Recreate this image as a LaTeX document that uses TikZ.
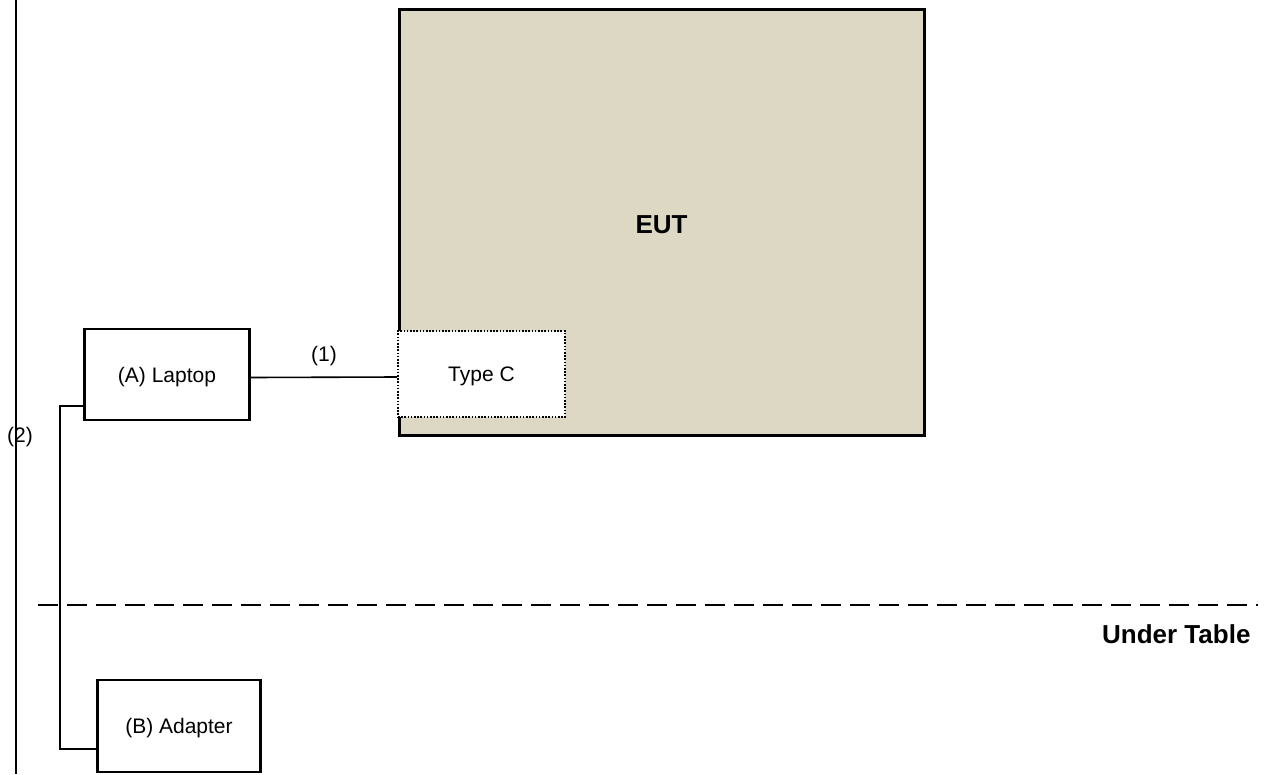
\documentclass[tikz,border=0pt]{standalone}
\usepackage{fontspec}
\setmainfont{Liberation Sans}
\usetikzlibrary{positioning}
\definecolor{euttan}{RGB}{221,216,195}

\begin{document}
\begin{tikzpicture}[x=1pt, y=-1pt,
    box/.style={draw, line width=2.5pt, inner sep=0pt, text depth=0pt, font=\fontsize{21}{25}\selectfont},
    portbox/.style={draw, fill=white, line width=1.8pt, dash pattern=on 1.6pt off 1.6pt, inner sep=0pt, text depth=0pt, font=\fontsize{21}{25}\selectfont},
    cable/.style={line width=1.6pt},
    tag/.style={font=\fontsize{21}{25}\selectfont},
    bigtag/.style={font=\fontsize{26}{31}\selectfont\bfseries}]
  \useasboundingbox (0,0) rectangle (1264,774);

  % EUT with its port
  \node[box, fill=euttan, minimum width=525pt, minimum height=426pt] (eut) at (662,222.5) {};
  \node[bigtag] (eutlabel) at (661.5,225) {EUT};
  \node[portbox, minimum width=167pt, minimum height=86pt] (typec) at (481.5,374) {Type C};

  % support units
  \node[box, minimum width=165pt, minimum height=91pt] (laptop) at (167,374.5) {(A) Laptop};
  \node[box, minimum width=163pt, minimum height=92pt] (adapter) at (179,726) {(B) Adapter};

  % cables
  \draw[cable] ([yshift=-3pt]laptop.east) -- ([yshift=-3pt]typec.west) node[tag, midway, above=7pt] (c1) {(1)};
  \coordinate (c2a) at (60,406);
  \coordinate (c2b) at (60,749);
  \draw[cable] (laptop.west |- c2a) -- (c2a) -- (c2b) -- (adapter.west |- c2b);
  \node[tag] (c2) at (20,437) {(2)};

  % page edge and table edge
  \draw[line width=1.7pt] (16,0) -- (16,774);
  \draw[line width=2.8pt, dash pattern=on 20pt off 9pt] (38,605) -- (1258,605);
  \node[bigtag, anchor=east] (under) at (1254,634) {Under Table};
\end{tikzpicture}
\end{document}
